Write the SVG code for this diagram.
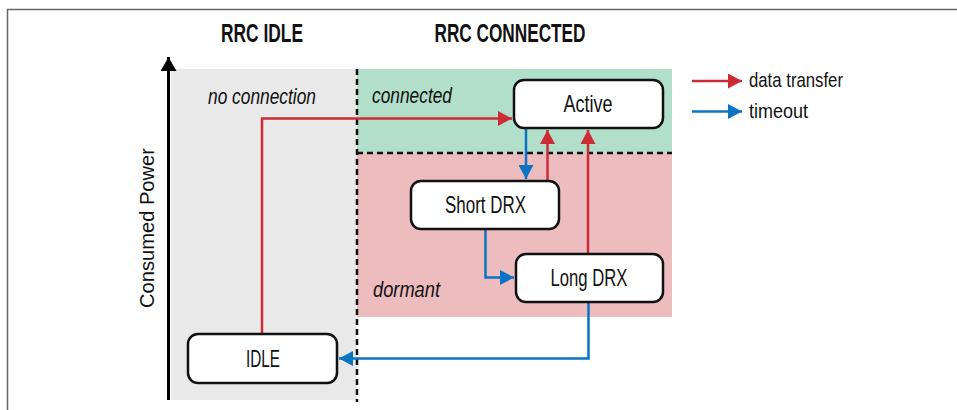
<svg xmlns="http://www.w3.org/2000/svg" width="957" height="410" viewBox="0 0 957 410">
<style>
text{font-family:"Liberation Sans Narrow","Liberation Sans",Arial,sans-serif;fill:#111}
.title{font-size:25px;font-weight:bold}
.zone{font-size:22px;font-style:italic}
.lbl{font-size:24px}
.leg{font-size:21px}
.box{fill:#fff;stroke:#111;stroke-width:2.5}
.red{fill:none;stroke:#cd2b36;stroke-width:2.5}
.blue{fill:none;stroke:#0a73c4;stroke-width:2.5}
.dash{stroke:#111;stroke-width:2.5;stroke-dasharray:6,4;fill:none}
</style>
<defs>
<marker id="ar" viewBox="0 0 14 15" refX="14" refY="7.5" markerWidth="14" markerHeight="15" markerUnits="userSpaceOnUse" orient="auto"><path d="M0,0 L14,7.5 L0,15 Z" fill="#cd2b36"/></marker>
<marker id="ab" viewBox="0 0 14 15" refX="14" refY="7.5" markerWidth="14" markerHeight="15" markerUnits="userSpaceOnUse" orient="auto"><path d="M0,0 L14,7.5 L0,15 Z" fill="#0a73c4"/></marker>
<marker id="ak" viewBox="0 0 14 16" refX="14" refY="8" markerWidth="14" markerHeight="16" markerUnits="userSpaceOnUse" orient="auto"><path d="M0,0 L14,8 L0,16 Z" fill="#000"/></marker>
</defs>
<rect width="957" height="410" fill="#fff"/>
<path d="M7.5,410 V9.5 H957" fill="none" stroke="#666" stroke-width="1.5"/>
<g id="zones">
<rect x="171" y="69" width="186" height="331" fill="#e9e9e9"/>
<rect x="357" y="69" width="315" height="84" fill="#b2dfca"/>
<rect x="357" y="153" width="315" height="164" fill="#ecbcbf"/>
<line x1="357" y1="153" x2="672" y2="153" class="dash"/>
<line x1="357" y1="69" x2="357" y2="402" class="dash"/>
</g>
<g id="axis">
<line x1="168.5" y1="400" x2="168.5" y2="57" stroke="#000" stroke-width="3" marker-end="url(#ak)"/>
<text class="leg" transform="translate(154,228) rotate(-90)" text-anchor="middle" textLength="160" lengthAdjust="spacingAndGlyphs">Consumed Power</text>
</g>
<text class="title" x="262" y="42" text-anchor="middle" textLength="82" lengthAdjust="spacingAndGlyphs">RRC IDLE</text>
<text class="title" x="510" y="42" text-anchor="middle" textLength="151" lengthAdjust="spacingAndGlyphs">RRC CONNECTED</text>
<text class="zone" x="208" y="104" textLength="108" lengthAdjust="spacingAndGlyphs">no connection</text>
<text class="zone" x="372" y="103" textLength="80" lengthAdjust="spacingAndGlyphs">connected</text>
<text class="zone" x="373" y="297" textLength="67" lengthAdjust="spacingAndGlyphs">dormant</text>
<g id="connectors">
<path class="red" d="M262,334 V118.5 H512" marker-end="url(#ar)"/>
<path class="blue" d="M526,129 V179" marker-end="url(#ab)"/>
<path class="red" d="M547.5,180 V130" marker-end="url(#ar)"/>
<path class="red" d="M588,253 V130" marker-end="url(#ar)"/>
<path class="blue" d="M485.5,229 V277.5 H514" marker-end="url(#ab)"/>
<path class="blue" d="M588.5,302 V358.5 H339" marker-end="url(#ab)"/>
</g>
<g id="active">
<rect class="box" x="514" y="80" width="149" height="48" rx="10"/>
<text class="lbl" x="588" y="112" text-anchor="middle" textLength="49" lengthAdjust="spacingAndGlyphs">Active</text>
</g>
<g id="short-drx">
<rect class="box" x="411" y="181" width="148" height="48" rx="10"/>
<text class="lbl" x="485.5" y="213" text-anchor="middle" textLength="81" lengthAdjust="spacingAndGlyphs">Short DRX</text>
</g>
<g id="long-drx">
<rect class="box" x="516" y="254" width="147" height="48" rx="10"/>
<text class="lbl" x="589" y="286" text-anchor="middle" textLength="77" lengthAdjust="spacingAndGlyphs">Long DRX</text>
</g>
<g id="idle">
<rect class="box" x="188" y="334" width="149" height="49" rx="10"/>
<text class="lbl" x="263" y="367" text-anchor="middle" textLength="34" lengthAdjust="spacingAndGlyphs">IDLE</text>
</g>
<g id="legend">
<line class="red" x1="692" y1="81" x2="742" y2="81" marker-end="url(#ar)"/>
<text class="leg" x="749" y="87" textLength="94" lengthAdjust="spacingAndGlyphs">data transfer</text>
<line class="blue" x1="692" y1="111.5" x2="742" y2="111.5" marker-end="url(#ab)"/>
<text class="leg" x="749" y="118" textLength="59" lengthAdjust="spacingAndGlyphs">timeout</text>
</g>
</svg>
